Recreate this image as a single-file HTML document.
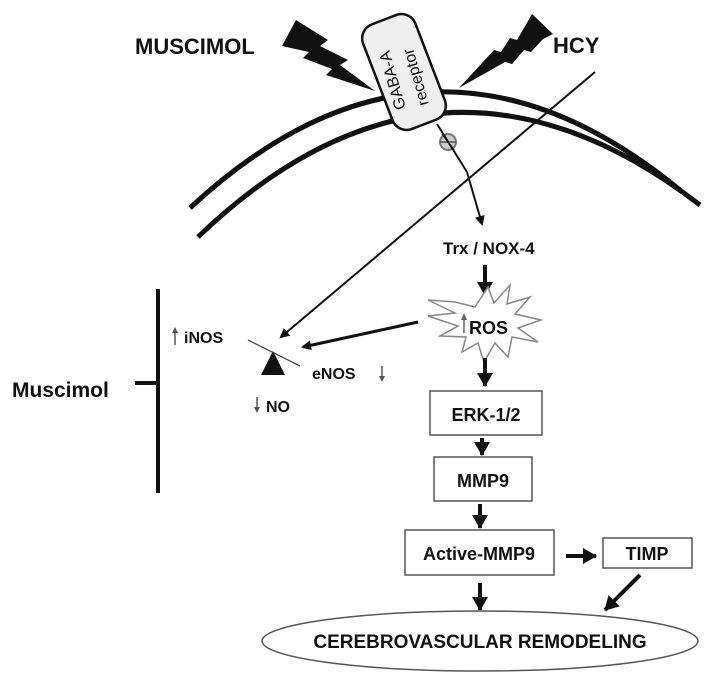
<!DOCTYPE html>
<html><head><style>body{margin:0;background:#fff}svg{display:block}text{font-family:"Liberation Sans",sans-serif;font-weight:bold;fill:#111}</style></head>
<body>
<svg width="711" height="684" viewBox="0 0 711 684" xmlns="http://www.w3.org/2000/svg">
<defs>
<marker id="a" markerWidth="10" markerHeight="10" refX="8" refY="5" orient="auto" markerUnits="userSpaceOnUse"><path d="M0,0 L10,5 L0,10 z" fill="#111"/></marker>
<marker id="b" markerWidth="16" markerHeight="16" refX="13" refY="8" orient="auto" markerUnits="userSpaceOnUse"><path d="M0,0 L14,8 L0,16 z" fill="#111"/></marker>
</defs>
<path d="M190,208 Q430,-15 680,190" fill="none" stroke="#111" stroke-width="5"/>
<path d="M198,237 Q440,5 700,205" fill="none" stroke="#111" stroke-width="5"/>
<polygon points="296,20 328,40 320,46 348,60 340,65 375,91 326,75 332,69 303,58 309,52 282,46" fill="#111"/>
<polygon points="532,14 553,34 543,39 531,52 524,50 512,64 505,62 459,88 494,50 501,52 510,38 517,40" fill="#111"/>
<g transform="translate(404,72) rotate(-21)">
<rect x="-28" y="-56" width="56" height="112" rx="15" fill="#efefef" stroke="#111" stroke-width="2.5"/>
</g>
<text transform="translate(406,108) rotate(-106)" font-size="16" style="font-weight:normal">GABA-A</text>
<text transform="translate(429,104) rotate(-106)" font-size="16" style="font-weight:normal">receptor</text>
<circle cx="448" cy="142" r="8" fill="#ccc" stroke="#777" stroke-width="2"/>
<line x1="442" y1="134" x2="454" y2="150" stroke="#555" stroke-width="1.5"/>
<line x1="440" y1="142" x2="456" y2="142" stroke="#555" stroke-width="1.5"/>
<line x1="437" y1="124" x2="467" y2="172" stroke="#111" stroke-width="2"/>
<line x1="467" y1="172" x2="482" y2="224" stroke="#111" stroke-width="2" marker-end="url(#a)"/>
<line x1="595" y1="72" x2="281" y2="337" stroke="#111" stroke-width="2" marker-end="url(#a)"/>
<text x="135" y="54" font-size="22">MUSCIMOL</text>
<text x="553" y="53" font-size="22">HCY</text>
<text x="443" y="254" font-size="17">Trx / NOX-4</text>
<line x1="485" y1="265" x2="485" y2="295" stroke="#111" stroke-width="4" marker-end="url(#b)"/>
<polygon points="455,302 475,307 488,287 494,303 510,285 507,304 530,297 515,314 541,320 518,328 538,342 512,337 508,357 495,343 484,362 478,343 462,352 466,337 440,336 458,326 428,316 455,313 428,300" fill="#fff" stroke="#888" stroke-width="1.5"/>
<text x="469" y="334" font-size="18">ROS</text>
<line x1="464" y1="333" x2="464" y2="318" stroke="#666" stroke-width="1.5"/>
<path d="M461,320 L464,313 L467,320z" fill="#666"/>
<line x1="418" y1="322" x2="303" y2="347" stroke="#111" stroke-width="3" marker-end="url(#a)"/>
<line x1="485" y1="358" x2="485" y2="386" stroke="#111" stroke-width="4" marker-end="url(#b)"/>
<rect x="430" y="391" width="112" height="44" fill="#fff" stroke="#555" stroke-width="1.5"/>
<text x="486" y="421" font-size="18" text-anchor="middle">ERK-1/2</text>
<line x1="482" y1="438" x2="482" y2="455" stroke="#111" stroke-width="4" marker-end="url(#b)"/>
<rect x="434" y="457" width="98" height="44" fill="#fff" stroke="#555" stroke-width="1.5"/>
<text x="483" y="487" font-size="18" text-anchor="middle">MMP9</text>
<line x1="480" y1="504" x2="480" y2="528" stroke="#111" stroke-width="4" marker-end="url(#b)"/>
<rect x="405" y="530" width="149" height="45" fill="#fff" stroke="#555" stroke-width="1.5"/>
<text x="479" y="560" font-size="18" text-anchor="middle">Active-MMP9</text>
<line x1="566" y1="556" x2="596" y2="556" stroke="#111" stroke-width="4" marker-end="url(#b)"/>
<rect x="603" y="538" width="89" height="30" fill="#fff" stroke="#555" stroke-width="1.5"/>
<text x="647" y="560" font-size="18" text-anchor="middle">TIMP</text>
<line x1="480" y1="583" x2="480" y2="610" stroke="#111" stroke-width="4" marker-end="url(#b)"/>
<line x1="640" y1="575" x2="605" y2="610" stroke="#111" stroke-width="4" marker-end="url(#b)"/>
<ellipse cx="480" cy="641" rx="218" ry="30" fill="#fff" stroke="#555" stroke-width="1.5"/>
<text x="480" y="648" font-size="19" text-anchor="middle">CEREBROVASCULAR REMODELING</text>
<line x1="158" y1="289" x2="158" y2="493" stroke="#111" stroke-width="4"/>
<line x1="135" y1="383" x2="158" y2="383" stroke="#111" stroke-width="4"/>
<text x="12" y="397" font-size="21">Muscimol</text>
<text x="184" y="343" font-size="16">iNOS</text>
<line x1="175" y1="345" x2="175" y2="331" stroke="#555" stroke-width="1.5"/><path d="M172,333 L175,327 L178,333z" fill="#555"/>
<line x1="248" y1="340" x2="300" y2="366" stroke="#333" stroke-width="1.2"/>
<polygon points="273,351 285,375 261,375" fill="#111"/>
<text x="312" y="379" font-size="16">eNOS</text>
<line x1="382" y1="366" x2="382" y2="378" stroke="#555" stroke-width="1.5"/><path d="M379,376 L382,382 L385,376z" fill="#555"/>
<text x="266" y="412" font-size="16">NO</text>
<line x1="257" y1="397" x2="257" y2="409" stroke="#555" stroke-width="1.5"/><path d="M254,407 L257,413 L260,407z" fill="#555"/>
</svg>
</body></html>
